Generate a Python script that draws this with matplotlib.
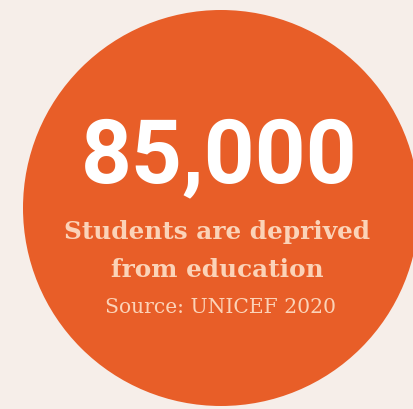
import matplotlib
matplotlib.use("Agg")
import matplotlib.pyplot as plt
from matplotlib.patches import Circle

# content
headline = "85,000"
caption_lines = ["Students are deprived", "from education"]
source = "Source: UNICEF 2020"

bg = "#f6eee9"
orange = "#e85e28"
peach = "#fbd3b8"

fig = plt.figure(figsize=(4.14, 4.10), dpi=100)
fig.patch.set_facecolor(bg)
ax = fig.add_axes([0, 0, 1, 1])
ax.set_xlim(0, 414)
ax.set_ylim(410, 0)
ax.set_aspect("equal")
ax.axis("off")

ax.add_patch(Circle((221, 209), 198, color=orange, lw=0))

ax.text(219, 182, headline, ha="center", va="baseline", color="white",
        fontsize=64, fontweight="bold", family="Roboto")

for i, line in enumerate(caption_lines):
    ax.text(217, 239 + i * 38, line, ha="center", va="baseline", color=peach,
            fontsize=17.8, fontweight="bold", family="DejaVu Serif")

ax.text(221, 313, source, ha="center", va="baseline", color=peach,
        fontsize=14.6, family="DejaVu Serif")

fig.savefig("out.png", dpi=100, facecolor=bg)
